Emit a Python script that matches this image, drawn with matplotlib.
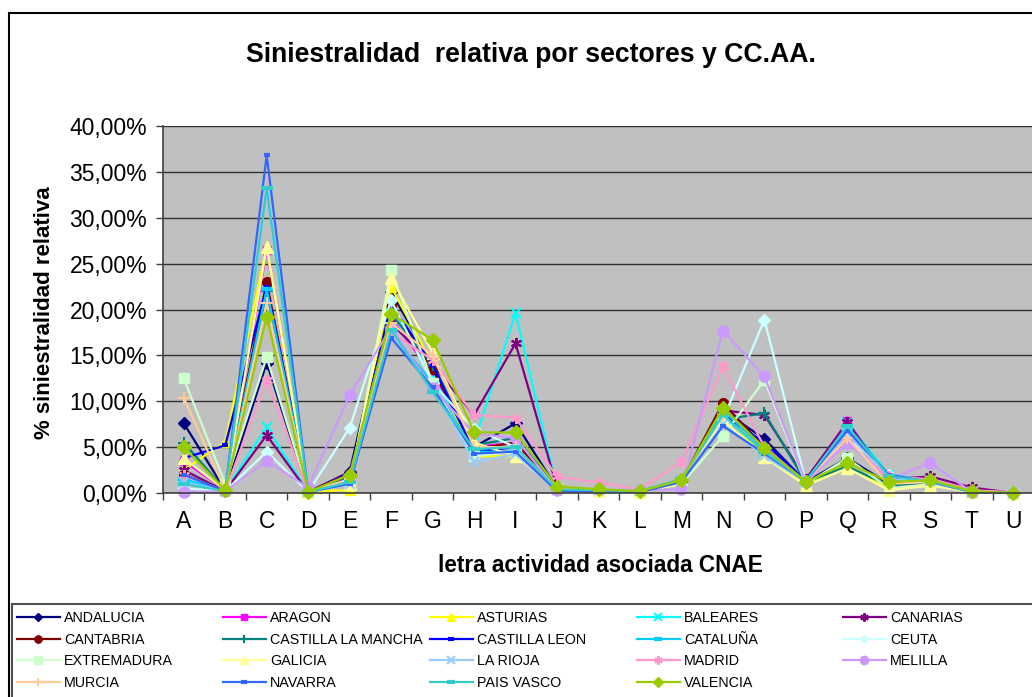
import numpy as np
import matplotlib.pyplot as plt
from matplotlib.patches import Rectangle
from matplotlib.ticker import FuncFormatter, MultipleLocator

plt.rcParams['font.family'] = ['Liberation Sans', 'DejaVu Sans']

# letras CNAE
letras = list('ABCDEFGHIJKLMNOPQRSTU')

regiones = ['ANDALUCIA', 'ARAGON', 'ASTURIAS', 'BALEARES', 'CANARIAS',
            'CANTABRIA', 'CASTILLA LA MANCHA', 'CASTILLA LEON', 'CATALUÑA', 'CEUTA',
            'EXTREMADURA', 'GALICIA', 'LA RIOJA', 'MADRID', 'MELILLA',
            'MURCIA', 'NAVARRA', 'PAIS VASCO', 'VALENCIA']

# % siniestralidad relativa por letra (A..U)
andalucia = [7.6, 0.3, 14.2, 0.1, 2.3, 21.9, 14.0, 5.0, 7.6, 0.5, 0.3, 0.2, 1.2, 9.0, 5.9, 1.2, 3.8, 1.0, 1.2, 0.2, 0.0]
aragon = [3.5, 0.3, 26.5, 0.1, 1.5, 19.0, 13.0, 5.0, 5.5, 0.4, 0.3, 0.2, 1.3, 8.0, 4.5, 1.3, 7.8, 1.5, 1.3, 0.1, 0.0]
asturias = [2.5, 5.6, 26.8, 0.2, 0.3, 22.5, 14.0, 4.0, 4.0, 0.6, 0.3, 0.1, 1.0, 8.5, 4.0, 0.9, 3.0, 0.4, 1.0, 0.1, 0.0]
baleares = [1.5, 0.3, 7.2, 0.1, 1.2, 20.5, 12.5, 5.5, 19.6, 0.5, 0.3, 0.2, 1.3, 8.3, 4.5, 1.3, 7.6, 2.0, 1.4, 0.1, 0.0]
canarias = [2.5, 0.2, 6.3, 0.1, 2.2, 18.5, 14.0, 8.5, 16.3, 0.6, 0.3, 0.2, 1.2, 9.0, 8.5, 1.5, 7.7, 1.5, 1.8, 0.6, 0.0]
cantabria = [2.0, 0.3, 23.0, 0.1, 1.5, 20.5, 13.5, 4.8, 5.5, 0.5, 0.3, 0.2, 1.3, 9.8, 5.0, 1.3, 6.0, 1.2, 1.2, 0.2, 0.0]
cast_mancha = [5.5, 0.3, 22.0, 0.1, 1.8, 19.5, 14.0, 5.2, 6.0, 0.6, 0.3, 0.2, 1.3, 8.0, 8.7, 1.2, 2.9, 0.8, 1.2, 0.1, 0.0]
cast_leon = [3.8, 5.2, 22.5, 0.1, 1.5, 20.5, 14.0, 4.5, 5.0, 0.5, 0.3, 0.2, 1.2, 8.5, 5.5, 1.3, 6.5, 1.5, 1.2, 0.1, 0.0]
cataluna = [1.5, 0.2, 22.2, 0.1, 1.2, 17.5, 12.0, 4.5, 4.5, 0.4, 0.3, 0.2, 1.5, 9.0, 4.8, 1.3, 7.0, 2.0, 1.3, 0.1, 0.0]
ceuta = [0.5, 0.2, 4.5, 0.1, 7.1, 21.0, 12.0, 7.0, 5.0, 0.3, 0.2, 0.2, 1.0, 8.0, 18.9, 1.2, 6.0, 2.0, 1.0, 0.1, 0.0]
extremadura = [12.5, 1.0, 14.8, 0.1, 1.0, 24.3, 12.0, 4.0, 4.5, 0.5, 0.3, 0.2, 1.0, 6.2, 12.3, 1.0, 3.8, 0.5, 0.9, 0.1, 0.0]
galicia = [3.8, 0.3, 26.8, 0.1, 1.0, 23.4, 15.3, 5.5, 4.0, 0.5, 0.2, 0.1, 1.0, 8.0, 3.9, 0.8, 2.7, 0.3, 0.8, 0.1, 0.0]
la_rioja = [1.2, 0.2, 33.0, 0.1, 1.0, 17.5, 11.5, 3.4, 4.2, 0.3, 0.3, 0.2, 1.2, 7.5, 4.0, 1.2, 6.5, 1.5, 1.3, 0.1, 0.0]
madrid = [2.0, 0.2, 12.3, 0.1, 1.5, 17.5, 14.5, 8.5, 8.2, 1.8, 1.1, 0.4, 3.4, 13.8, 5.0, 1.2, 5.5, 1.8, 1.5, 0.3, 0.1]
melilla = [0.1, 0.2, 3.5, 0.6, 10.7, 18.0, 11.4, 6.5, 6.0, 0.3, 0.4, 0.3, 0.4, 17.7, 12.7, 1.2, 5.5, 1.5, 3.3, 0.1, 0.0]
murcia = [10.4, 0.3, 20.7, 0.1, 1.5, 18.5, 15.0, 5.0, 5.0, 0.5, 0.3, 0.2, 1.2, 8.5, 4.5, 1.3, 6.0, 1.0, 1.2, 0.1, 0.0]
navarra = [2.0, 0.2, 36.8, 0.1, 1.0, 16.9, 11.5, 4.3, 4.5, 0.2, 0.2, 0.1, 1.2, 7.3, 4.3, 1.3, 6.8, 2.0, 1.2, 0.1, 0.0]
pais_vasco = [1.0, 0.2, 33.2, 0.1, 1.2, 17.8, 11.0, 4.8, 5.0, 0.4, 0.3, 0.2, 1.5, 8.5, 4.5, 1.3, 7.3, 1.8, 1.3, 0.1, 0.0]
valencia = [5.0, 0.3, 19.2, 0.1, 2.0, 19.5, 16.7, 6.6, 6.6, 0.7, 0.4, 0.2, 1.4, 9.3, 4.9, 1.2, 3.3, 1.2, 1.4, 0.2, 0.0]

valores = [andalucia, aragon, asturias, baleares, canarias,
           cantabria, cast_mancha, cast_leon, cataluna, ceuta,
           extremadura, galicia, la_rioja, madrid, melilla,
           murcia, navarra, pais_vasco, valencia]

star = (6, 2, 0)
# color, marcador, tamaño, grosor
estilos = [('#000080', 'D', 6, 1), ('#FF00FF', 's', 6, 1), ('#FFFF00', '^', 7, 1),
           ('#00FFFF', 'x', 7, 1.5), ('#800080', star, 8, 1.5),
           ('#800000', 'o', 7, 1), ('#008080', '+', 8, 1.5), ('#0000FF', '_', 5, 3),
           ('#00CCFF', '_', 8, 3), ('#CCFFFF', 'D', 6, 1),
           ('#CCFFCC', 's', 7, 1), ('#FFFF99', '^', 8, 1), ('#99CCFF', 'x', 7, 1.5),
           ('#FF99CC', star, 8, 1.5), ('#CC99FF', 'o', 8, 1),
           ('#FFCC99', '+', 8, 1.5), ('#3366FF', '_', 5, 3), ('#33CCCC', '_', 8, 3),
           ('#99CC00', 'D', 7, 1)]

W, H = 1032, 697
fig = plt.figure(figsize=(W / 100, H / 100), dpi=100)
ax = fig.add_axes([163 / W, 1 - 493 / H, 871 / W, 367 / H])
ax.set_facecolor('#C0C0C0')

x = np.arange(len(letras))
lineas = []
for nombre, vals, (c, m, ms, mew) in zip(regiones, valores, estilos):
    l, = ax.plot(x, vals, color=c, marker=m, ms=ms, mew=mew, mfc=c, mec=c,
                 lw=1.6, label=nombre, clip_on=False)
    lineas.append(l)

ax.set_xlim(-0.5, 20.5)
ax.set_ylim(0, 40)
ax.yaxis.set_major_locator(MultipleLocator(5))
ax.yaxis.set_major_formatter(FuncFormatter(lambda v, p: f'{v:.2f}'.replace('.', ',') + '%'))
ax.grid(axis='y', color='#303030', lw=1)
ax.set_axisbelow(True)
ax.set_xticks(x)
ax.set_xticklabels(letras)
ax.set_xticks(np.arange(-0.5, 21, 1), minor=True)
ax.tick_params(axis='x', which='major', length=0, pad=12, labelsize=16.5)
ax.tick_params(axis='x', which='minor', length=5, width=1, color='#404040')
ax.tick_params(axis='y', length=5, width=1, color='#404040', pad=6.5, labelsize=16.5)
for s in ['top', 'right']:
    ax.spines[s].set_visible(False)
for s in ['left', 'bottom']:
    ax.spines[s].set_color('#404040')
    ax.spines[s].set_linewidth(1.2)

fig.text(531 / W, 1 - 55 / H, 'Siniestralidad  relativa por sectores y CC.AA.',
         ha='center', va='center', fontsize=19.2, fontweight='bold')
fig.text(600 / W, 1 - 565 / H, 'letra actividad asociada CNAE',
         ha='center', va='center', fontsize=16.3, fontweight='bold')
fig.text(45 / W, 1 - 313 / H, '% siniestralidad relativa', rotation=90,
         ha='center', va='center', fontsize=16, fontweight='bold')

# marcos
fig.add_artist(Rectangle((9 / W, -0.1), 1.2, 1 - 13 / H + 0.1, transform=fig.transFigure,
                         fill=False, ec='black', lw=1.5))
fig.add_artist(Rectangle((12 / W, -0.1), 1.2, 1 - 604 / H + 0.1, transform=fig.transFigure,
                         fill=False, ec='#505050', lw=1.5))

# leyenda por columnas (orden por filas)
grupos = [[0, 5, 10, 15], [1, 6, 11, 16], [2, 7, 12, 17], [3, 8, 13, 18], [4, 9, 14]]
col_x = [17, 223, 430, 637, 843]
for g, cx in zip(grupos, col_x):
    fig.legend([lineas[i] for i in g], [regiones[i] for i in g], loc='upper left',
               bbox_to_anchor=(cx / W, 1 - 611 / H), frameon=False, borderpad=0,
               borderaxespad=0, fontsize=10.3, handlelength=3.0, handletextpad=0.3,
               labelspacing=0.53, markerscale=0.75)

fig.savefig('out.png', dpi=100)
